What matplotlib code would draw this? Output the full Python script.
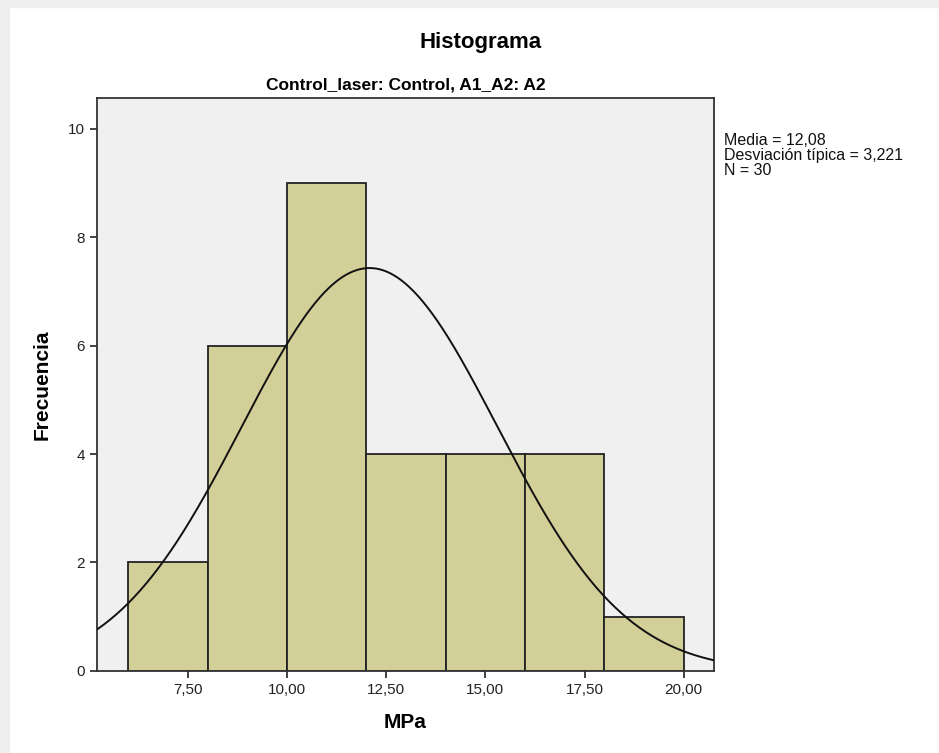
import numpy as np
import matplotlib
matplotlib.use('Agg')
import matplotlib.pyplot as plt
from matplotlib.ticker import FuncFormatter

# histogram data
bin_edges = [6, 8, 10, 12, 14, 16, 18, 20]
counts = [2, 6, 9, 4, 4, 4, 1]
media = 12.08
desv = 3.221
n = 30

plt.rcParams['font.family'] = ['Liberation Sans', 'DejaVu Sans']

fig = plt.figure(figsize=(9.39, 7.53), dpi=100)
# light grey screenshot borders
fig.patches.append(plt.Rectangle((0, 1 - 7 / 753), 1, 7 / 753, transform=fig.transFigure,
                                 color='#eeeeee', zorder=0))
fig.patches.append(plt.Rectangle((0, 0), 9 / 939, 1, transform=fig.transFigure,
                                 color='#eeeeee', zorder=0))

ax = fig.add_axes([0.1033, 0.109, 0.657, 0.761])
ax.set_facecolor('#f0f0f0')

widths = np.diff(bin_edges)
ax.bar(bin_edges[:-1], counts, width=widths, align='edge', color='#d3cf98',
       edgecolor='#222222', linewidth=1.3, zorder=2)

# normal curve scaled to counts
xs = np.linspace(5.21, 20.76, 400)
bw = bin_edges[1] - bin_edges[0]
ys = n * bw / (desv * np.sqrt(2 * np.pi)) * np.exp(-0.5 * ((xs - media) / desv) ** 2)
ax.plot(xs, ys, color='#111111', linewidth=1.4, zorder=3)

ax.set_xlim(5.21, 20.76)
ax.set_ylim(0, 10.57)
ax.set_xticks([7.5, 10, 12.5, 15, 17.5, 20])
ax.set_yticks([0, 2, 4, 6, 8, 10])
ax.xaxis.set_major_formatter(FuncFormatter(lambda v, p: f'{v:.2f}'.replace('.', ',')))
ax.tick_params(axis='both', labelsize=11, colors='#222222', length=5, width=1.2, direction='out')
for s in ax.spines.values():
    s.set_color('#333333')
    s.set_linewidth(1.3)

ax.set_xlabel('MPa', fontsize=15, fontweight='bold', labelpad=12)
ax.set_ylabel('Frecuencia', fontsize=15, fontweight='bold', labelpad=12)
ax.set_title('Control_laser: Control, A1_A2: A2', fontsize=12.5, fontweight='bold', pad=6)
fig.text(0.512, 0.943, 'Histograma', ha='center', va='center', fontsize=16, fontweight='bold')

stats_txt = ('Media = ' + f'{media:.2f}'.replace('.', ',') + '\n'
             'Desviación típica = ' + f'{desv:.3f}'.replace('.', ',') + '\n'
             'N = ' + str(n))
fig.text(0.771, 0.823, stats_txt, ha='left', va='top', fontsize=11.5,
         linespacing=0.97, color='#111111')

fig.savefig('out.png', dpi=100, facecolor='white')
